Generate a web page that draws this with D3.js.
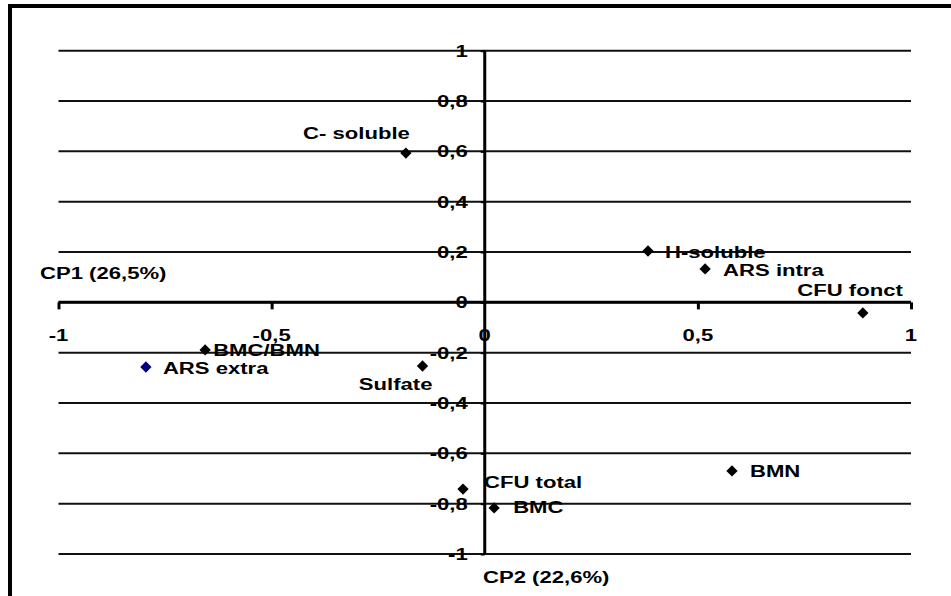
<!DOCTYPE html>
<html>
<head>
<meta charset="utf-8">
<script src="https://cdn.jsdelivr.net/npm/d3@7"></script>
<style>
  html, body { margin: 0; padding: 0; background: #fff; }
  svg { display: block; }
  text { font-family: "Liberation Sans", Arial, sans-serif; font-weight: bold; fill: #000; }
</style>
</head>
<body>
<svg id="chart" width="951" height="596"></svg>
<script>
// ---- data ----
const names = ["C- soluble", "H-soluble", "ARS intra", "CFU fonct", "BMN", "CFU total", "BMC", "Sulfate", "BMC/BMN", "ARS extra"];
const cp1   = [-0.185, 0.383, 0.517, 0.887, 0.580, -0.051, 0.022, -0.146, -0.656, -0.795];
const cp2   = [ 0.593, 0.204, 0.133, -0.042, -0.670, -0.742, -0.817, -0.253, -0.189, -0.257];
const xTicks = [-1, -0.5, 0, 0.5, 1];
const xTickLabels = ["-1", "-0,5", "0", "0,5", "1"];
const yTicks = [1, 0.8, 0.6, 0.4, 0.2, 0, -0.2, -0.4, -0.6, -0.8, -1];
const yTickLabels = ["1", "0,8", "0,6", "0,4", "0,2", "0", "-0,2", "-0,4", "-0,6", "-0,8", "-1"];
const xTitle = "CP1 (26,5%)";
const yTitle = "CP2 (22,6%)";

// ---- label placement (layout only) ----
const labelPlace = {
  "C- soluble": {dx: 4,  dy: -20, anchor: "end"},
  "H-soluble":  {dx: 17, dy: 1,   anchor: "start"},
  "ARS intra":  {dx: 18, dy: 1,   anchor: "start"},
  "CFU fonct":  {dx: 40, dy: -23, anchor: "end"},
  "BMN":        {dx: 18, dy: 0,   anchor: "start"},
  "CFU total":  {dx: 21, dy: -7,  anchor: "start"},
  "BMC":        {dx: 19, dy: -1,  anchor: "start"},
  "Sulfate":    {dx: 10, dy: 18,  anchor: "end"},
  "BMC/BMN":    {dx: 8,  dy: 0,   anchor: "start"},
  "ARS extra":  {dx: 17, dy: 1,   anchor: "start"}
};
const markerColor = {"ARS extra": "#000080"};

const FS = 17, SX = 1.3, BASE = 6;

const svg = d3.select("#chart");
const x = d3.scaleLinear().domain([-1, 1]).range([58.5, 911]);
const y = d3.scaleLinear().domain([-1, 1]).range([554, 50.7]);

function stretchedText(parent, px, py, str, anchor) {
  const g = parent.append("g").attr("transform", `translate(${px},${py}) scale(${SX},1)`);
  g.append("text").attr("x", 0).attr("y", 0)
    .attr("text-anchor", anchor).attr("font-size", FS).text(str);
  return g;
}

// frame (top & left visible)
svg.append("rect").attr("x", 10).attr("y", 6).attr("width", 1000).attr("height", 700)
  .attr("fill", "none").attr("stroke", "#000").attr("stroke-width", 4);

// grid lines
svg.append("g").selectAll("line").data(yTicks).join("line")
  .attr("x1", x(-1)).attr("x2", x(1))
  .attr("y1", d => y(d)).attr("y2", d => y(d))
  .attr("stroke", "#111").attr("stroke-width", 2);

// x axis (horizontal at y=0)
const xAxis = d3.axisBottom(x).tickValues(xTicks.filter(d => d !== 0)).tickSize(7).tickFormat("");
const gx = svg.append("g").attr("transform", `translate(0,${y(0)})`).call(xAxis);
gx.select(".domain").attr("stroke", "#000").attr("stroke-width", 3).attr("d", `M${x(-1)},0H${x(1)}`);
gx.selectAll(".tick line").attr("stroke", "#000").attr("stroke-width", 3);

// y axis (vertical at x=0)
const yAxis = d3.axisLeft(y).tickValues(yTicks).tickSize(4).tickFormat("");
const gy = svg.append("g").attr("transform", `translate(${x(0)},0)`).call(yAxis);
gy.select(".domain").attr("stroke", "#000").attr("stroke-width", 3).attr("d", `M0,${y(1)}V${y(-1)}`);
gy.selectAll(".tick line").attr("stroke", "#000").attr("stroke-width", 2);

// y tick labels
const ylab = svg.append("g");
yTicks.forEach((v, i) => stretchedText(ylab, x(0) - 17, y(v) + BASE, yTickLabels[i], "end"));

// x tick labels
const xlab = svg.append("g");
xTicks.forEach((v, i) => stretchedText(xlab, x(v), 335 + BASE, xTickLabels[i], "middle"));

// axis titles
stretchedText(svg, 40, 273 + BASE, xTitle, "start");
stretchedText(svg, 483, 577 + BASE, yTitle, "start");

// points
const sym = d3.symbol().type(d3.symbolSquare).size(64);
const pts = svg.append("g");
names.forEach((n, i) => {
  pts.append("path").attr("d", sym())
    .attr("transform", `translate(${x(cp1[i])},${y(cp2[i])}) rotate(45)`)
    .attr("fill", markerColor[n] || "#000");
});

// point labels
const labs = svg.append("g");
names.forEach((n, i) => {
  const p = labelPlace[n];
  stretchedText(labs, x(cp1[i]) + p.dx, y(cp2[i]) + p.dy + BASE, n, p.anchor);
});
</script>
</body>
</html>
